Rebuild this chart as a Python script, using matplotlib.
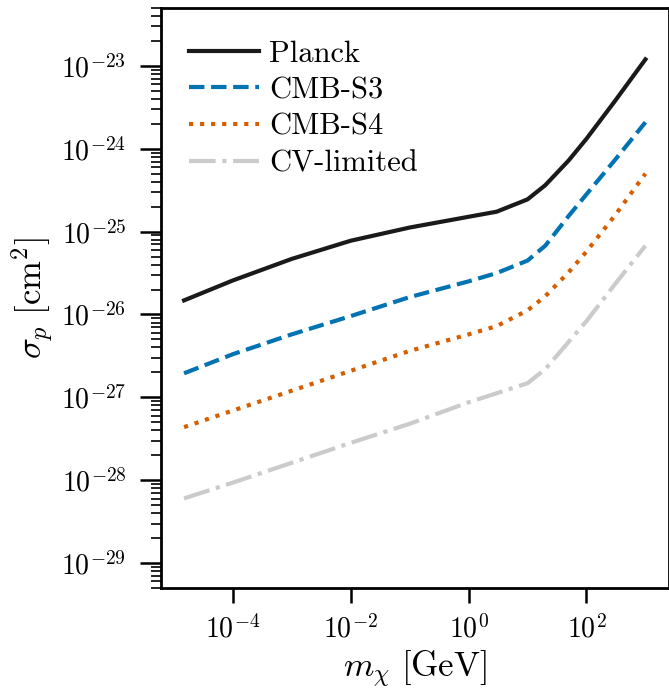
import matplotlib
matplotlib.use("Agg")
import matplotlib.pyplot as plt
from matplotlib.ticker import NullLocator

plt.rcParams["font.family"] = "serif"
plt.rcParams["font.serif"] = ["cmr10"]
plt.rcParams["mathtext.fontset"] = "cm"
plt.rcParams["axes.formatter.use_mathtext"] = True

# dark matter mass [GeV]
mass = [1.5e-5, 1e-4, 1e-3, 1e-2, 1e-1, 1, 3, 10, 20, 50, 100, 300, 1000]

# 95% upper limits on the cross section [cm^2]
planck = [1.48e-26, 2.57e-26, 4.68e-26, 7.76e-26, 1.12e-25, 1.51e-25, 1.74e-25,
          2.45e-25, 3.63e-25, 7.24e-25, 1.32e-24, 3.72e-24, 1.20e-23]
cmb_s3 = [1.95e-27, 3.31e-27, 5.75e-27, 9.55e-27, 1.62e-26, 2.51e-26, 3.16e-26,
          4.47e-26, 6.76e-26, 1.55e-25, 2.82e-25, 7.24e-25, 2.09e-24]
cmb_s4 = [4.37e-28, 6.92e-28, 1.20e-27, 2.09e-27, 3.63e-27, 5.75e-27, 7.24e-27,
          1.12e-26, 1.66e-26, 3.24e-26, 5.75e-26, 1.55e-25, 5.01e-25]
cv_limited = [6.03e-29, 9.33e-29, 1.62e-28, 2.82e-28, 4.79e-28, 8.71e-28, 1.12e-27,
              1.48e-27, 2.19e-27, 4.68e-27, 8.32e-27, 2.29e-26, 6.76e-26]

W, H = 669, 692
fig = plt.figure(figsize=(W / 100, H / 100), dpi=100)
ax = fig.add_axes([161 / W, 1 - 588 / H, (668.5 - 161) / W, (588 - 8) / H])

lw = 3
ax.plot(mass, planck, color="#1a1a1a", lw=lw, ls="-", label="Planck")
ax.plot(mass, cmb_s3, color="#0173b2", lw=lw, ls="--", label="CMB-S3")
ax.plot(mass, cmb_s4, color="#d55e00", lw=lw, ls=":", label="CMB-S4")
ax.plot(mass, cv_limited, color="#cbcbcb", lw=lw, ls="-.", label="CV-limited")

ax.set_xscale("log")
ax.set_yscale("log")
ax.set_ylim(5e-30, 5e-23)
ax.xaxis.set_minor_locator(NullLocator())

for s in ax.spines.values():
    s.set_linewidth(2)
ax.tick_params(axis="both", labelsize=20, width=1.8, direction="out")
ax.tick_params(axis="x", which="major", length=11, pad=8)
ax.tick_params(axis="y", which="major", length=15, pad=10)
ax.tick_params(axis="y", which="minor", length=7, width=1.2)

ax.set_xlabel(r"$m_\chi\ [\mathrm{GeV}]$", fontsize=25, labelpad=4)
ax.set_ylabel(r"$\sigma_p\ [\mathrm{cm}^2]$", fontsize=25, labelpad=4)

ax.legend(loc="upper left", bbox_to_anchor=(0, 0.992), frameon=False,
          fontsize=22, handlelength=2.3, handletextpad=0.35, labelspacing=0.3)

fig.savefig("out.png", dpi=100)
